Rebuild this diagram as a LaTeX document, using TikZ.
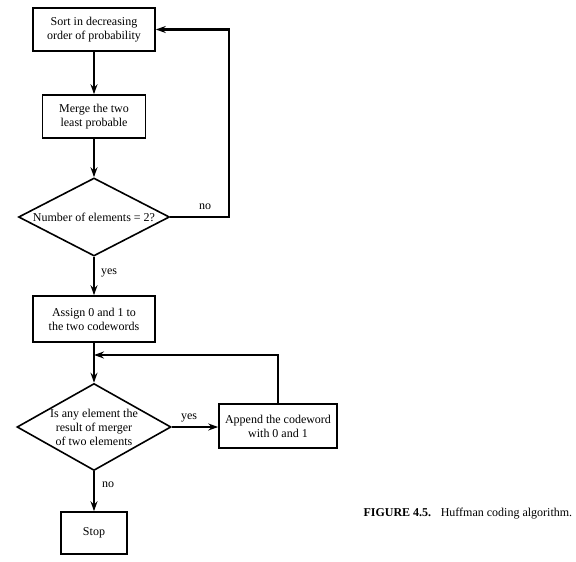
\documentclass[tikz,border=0pt]{standalone}
\usepackage{fontspec}
\setmainfont{Liberation Serif}
\usetikzlibrary{shapes.geometric,arrows.meta}
\begin{document}
\begin{tikzpicture}[x=1pt,y=-1pt,
  txt/.style={font=\fontsize{12}{14}\selectfont},
  box/.style={draw,line width=1.6pt,align=center,inner sep=0pt,txt},
  dia/.style={draw,diamond,line width=1.6pt,inner sep=0pt},
  flow/.style={line width=2.2pt,-{Stealth[length=10pt,width=7pt]}},
  lbl/.style={txt,inner sep=1pt}
]
\useasboundingbox (0,0) rectangle (576,562);
\node[box,minimum width=122pt,minimum height=43pt] (sort) at (94,29.5) {Sort in decreasing\\order of probability};
\node[box,minimum width=103pt,minimum height=43pt] (merge) at (94,116.5) {Merge the two\\least probable};
\node[dia,minimum width=151pt,minimum height=78pt,label={[txt]center:Number of elements = 2?}] (d1) at (94,217) {};
\node[box,minimum width=122pt,minimum height=46pt] (assign) at (94,319) {Assign 0 and 1 to\\the two codewords};
\node[dia,minimum width=154pt,minimum height=87pt,label={[txt,align=center]center:Is any element the\\result of merger\\of two elements}] (d2) at (94,427) {};
\node[box,minimum width=118pt,minimum height=44pt] (append) at (278,426) {Append the codeword\\with 0 and 1};
\node[box,minimum width=66pt,minimum height=42pt] (stop) at (94,533) {Stop};
\coordinate (loop) at (229,217);
\coordinate (join) at (94,355);

\draw[flow] (sort) -- (merge);
\draw[flow] (merge) -- (d1);
\draw[flow] (d1.east) -- (loop) |- (sort.east);
\node[lbl] (no1) at (205,207) {no};
\draw[flow] (d1) -- (assign);
\node[lbl] (yes1) at (109,273) {yes};
\draw[flow] (assign) -- (d2);
\draw[flow] (append.north) |- (join);
\draw[flow] (d2.east) -- (d2.east -| append.west);
\node[lbl] (yes2) at (189,418) {yes};
\draw[flow] (d2) -- (stop);
\node[lbl] (no2) at (108,485) {no};

\node[txt,anchor=west] (cap) at (360,514) {\textbf{FIGURE 4.5.}\hspace{0.8em}Huffman coding algorithm.};
\end{tikzpicture}
\end{document}
